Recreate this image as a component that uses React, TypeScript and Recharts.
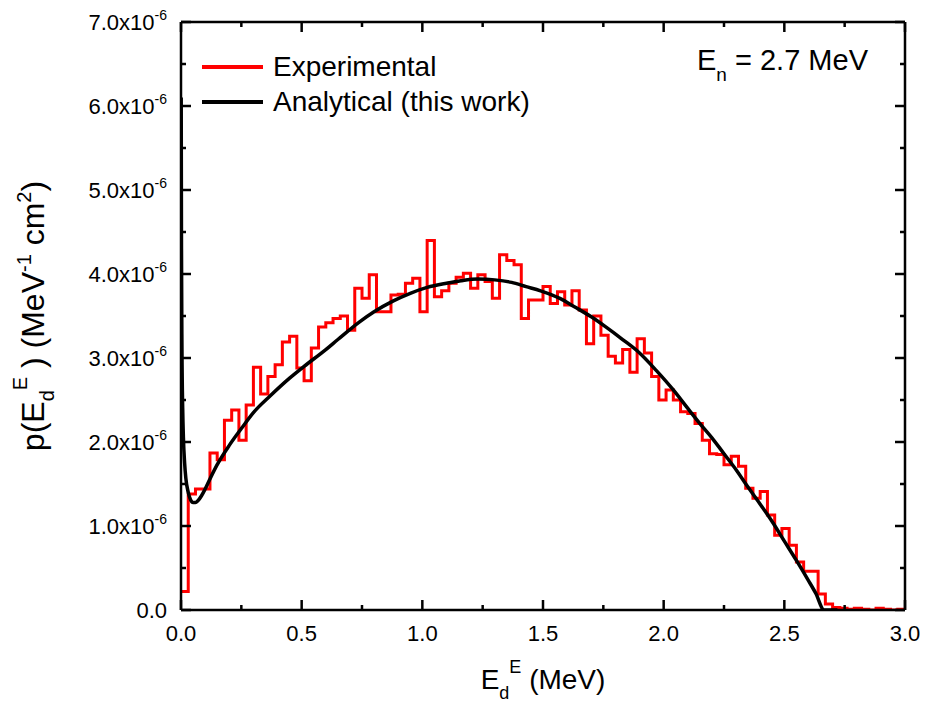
import React from 'react';
import { ComposedChart, Line, XAxis, YAxis, Legend, Label, Customized } from 'recharts';

// histogram bins are 0.03 MeV wide, values in units of 1e-6 MeV^-1 cm^2
const BIN_WIDTH = 0.03;
const experimental = [
  0.22, 1.38, 1.44, 1.44, 1.87, 1.79, 2.26, 2.38, 2.02, 2.44,
  2.89, 2.57, 2.78, 2.92, 3.19, 3.26, 2.88, 2.73, 3.12, 3.37,
  3.42, 3.47, 3.5, 3.33, 3.83, 3.71, 3.99, 3.55, 3.55, 3.75,
  3.76, 3.89, 3.95, 3.55, 4.4, 3.73, 3.8, 3.89, 3.96, 4.01,
  3.83, 3.99, 3.91, 3.71, 4.23, 4.16, 4.11, 3.47, 3.69, 3.69,
  3.85, 3.65, 3.79, 3.63, 3.8, 3.57, 3.17, 3.5, 3.27, 3.02,
  2.94, 3.1, 2.83, 3.23, 3.06, 2.78, 2.5, 2.62, 2.5, 2.36,
  2.34, 2.22, 2.02, 1.86, 1.85, 1.73, 1.83, 1.71, 1.45, 1.33,
  1.41, 1.13, 0.89, 0.97, 0.77, 0.57, 0.46, 0.46, 0.19, 0.07,
  0.03, 0.02, 0.01, 0.02, 0.01, 0.0, 0.02, 0.01, 0.0, 0.01,
];

const analyticalE = [
  0.0008, 0.002, 0.004, 0.007, 0.01, 0.015, 0.02, 0.03, 0.04, 0.05,
  0.06, 0.07, 0.085, 0.1, 0.12, 0.15, 0.2, 0.25, 0.3, 0.37,
  0.45, 0.51, 0.6, 0.65, 0.74, 0.8, 0.88, 0.95, 1.02, 1.1,
  1.16, 1.23, 1.3, 1.37, 1.43, 1.49, 1.57, 1.63, 1.7, 1.76,
  1.83, 1.9, 1.97, 2.04, 2.1, 2.15, 2.2, 2.25, 2.3, 2.35,
  2.4, 2.45, 2.5, 2.55, 2.6, 2.63, 2.665, 2.72,
];
const analyticalP = [
  6.1, 4.3, 3.1, 2.4, 2.05, 1.75, 1.57, 1.4, 1.31, 1.28,
  1.28, 1.3, 1.36, 1.44, 1.56, 1.73, 1.96, 2.16, 2.35, 2.55,
  2.76, 2.9, 3.1, 3.22, 3.43, 3.55, 3.68, 3.77, 3.84, 3.89,
  3.92, 3.94, 3.93, 3.9, 3.85, 3.8, 3.71, 3.61, 3.49, 3.37,
  3.22, 3.06, 2.85, 2.62, 2.4, 2.22, 2.05, 1.86, 1.67, 1.46,
  1.26, 1.05, 0.82, 0.59, 0.35, 0.2, 0.0, 0.0,
];

const seriesNames = ['Experimental', 'Analytical (this work)'];
const xTicks = [0, 0.25, 0.5, 0.75, 1, 1.25, 1.5, 1.75, 2, 2.25, 2.5, 2.75, 3];
const yTicks = [0, 0.5, 1, 1.5, 2, 2.5, 3, 3.5, 4, 4.5, 5, 5.5, 6, 6.5, 7];

const expData = [
  ...experimental.map((p, i) => ({ e: +(i * BIN_WIDTH).toFixed(2), p })),
  { e: 3.0, p: experimental[experimental.length - 1] },
];
const anaData = analyticalE.map((e, i) => ({ e, p: analyticalP[i] }));

const FONT = "'Liberation Sans', Arial, sans-serif";
const MAJOR = 10;
const MINOR = 5;
const TICK_W = 2.5;
const isMajorX = (v: number) => Math.abs(v * 2 - Math.round(v * 2)) < 1e-6;
const isMajorY = (v: number) => Math.abs(v - Math.round(v)) < 1e-6;

// all axes get tickSize 0 / tickMargin 0, so x,y below sit on the axis line;
// tick marks point into the plot like the original
const renderBottomTick = (props: any) => {
  const { x, y, payload } = props;
  const major = isMajorX(payload.value);
  return (
    <g>
      <path d={`M${x},${y}V${y - (major ? MAJOR : MINOR)}`} stroke="#000" strokeWidth={TICK_W} fill="none" />
      {major && (
        <text x={x} y={y + 31} textAnchor="middle" fontSize={22} fontFamily={FONT} fill="#000">
          {payload.value.toFixed(1)}
        </text>
      )}
    </g>
  );
};

const renderTopTick = (props: any) => {
  const { x, y, payload } = props;
  const major = isMajorX(payload.value);
  return <path d={`M${x},${y}V${y + (major ? MAJOR : MINOR)}`} stroke="#000" strokeWidth={TICK_W} fill="none" />;
};

const renderLeftTick = (props: any) => {
  const { x, y, payload } = props;
  const v = payload.value;
  const major = isMajorY(v);
  return (
    <g>
      <path d={`M${x},${y}H${x + (major ? MAJOR : MINOR)}`} stroke="#000" strokeWidth={TICK_W} fill="none" />
      {major && (
        <text x={x - 14} y={y + 8} textAnchor="end" fontSize={22} fontFamily={FONT} fill="#000">
          {v === 0 ? '0.0' : `${v.toFixed(1)}x10`}
          {v !== 0 && (
            <tspan dy={-10} fontSize={14}>-6</tspan>
          )}
        </text>
      )}
    </g>
  );
};

const renderRightTick = (props: any) => {
  const { x, y, payload } = props;
  const major = isMajorY(payload.value);
  return <path d={`M${x},${y}H${x - (major ? MAJOR : MINOR)}`} stroke="#000" strokeWidth={TICK_W} fill="none" />;
};

function XTitle({ viewBox }: any) {
  const cx = viewBox.x + viewBox.width / 2;
  const base = viewBox.y + 79;
  return (
    <text x={cx} y={base} textAnchor="middle" fontSize={28} fontFamily={FONT} fill="#000">
      E
      <tspan dy={10} fontSize={18}>d</tspan>
      <tspan dy={-26} fontSize={18}>E</tspan>
      <tspan dy={16}> (MeV)</tspan>
    </text>
  );
}

function YTitle({ viewBox }: any) {
  const cy = viewBox.y + viewBox.height / 2;
  const bx = 44;
  return (
    <text
      x={bx}
      y={cy}
      transform={`rotate(-90, ${bx}, ${cy})`}
      textAnchor="middle"
      fontSize={32}
      fontFamily={FONT}
      fill="#000"
    >
      p(E
      <tspan dy={10} fontSize={20}>d</tspan>
      <tspan dy={-27} fontSize={20}>E</tspan>
      <tspan dy={17}> ) (MeV</tspan>
      <tspan dy={-13} fontSize={20}>-1</tspan>
      <tspan dy={13}>  cm</tspan>
      <tspan dy={-13} fontSize={20}>2</tspan>
      <tspan dy={13}>)</tspan>
    </text>
  );
}

function LegendBox({ payload }: any) {
  const items = (payload || [])
    .filter((p: any) => seriesNames.includes(p.value))
    .sort((a: any, b: any) => seriesNames.indexOf(a.value) - seriesNames.indexOf(b.value));
  return (
    <svg width={380} height={90}>
      {items.map((item: any, i: number) => (
        <g key={item.value}>
          <line x1={2} x2={63} y1={27 + 35 * i} y2={27 + 35 * i} stroke={item.color} strokeWidth={4} />
          <text x={73} y={36 + 35 * i} fontSize={28} fontFamily={FONT} fill="#000">
            {item.value}
          </text>
        </g>
      ))}
    </svg>
  );
}

function EnergyNote() {
  return (
    <text x={697} y={70} fontSize={29} fontFamily={FONT} fill="#000">
      E
      <tspan dy={11} fontSize={19}>n</tspan>
      <tspan dy={-11}> = 2.7 MeV</tspan>
    </text>
  );
}

export default function App() {
  return (
    <div style={{ position: 'absolute', left: 0, top: 0, width: 935, height: 702, background: '#fff' }}>
      <ComposedChart width={935} height={702} margin={{ top: 21, right: 29, bottom: 32, left: 81 }}>
        <XAxis
          xAxisId="bottom"
          dataKey="e"
          type="number"
          domain={[0, 3]}
          ticks={xTicks}
          interval={0}
          allowDataOverflow
          height={60}
          axisLine={{ stroke: '#000', strokeWidth: TICK_W }}
          tickLine={false}
          tickSize={0}
          tickMargin={0}
          tick={renderBottomTick}
        >
          <Label content={<XTitle />} />
        </XAxis>
        <XAxis
          xAxisId="top"
          orientation="top"
          dataKey="e"
          type="number"
          domain={[0, 3]}
          ticks={xTicks}
          interval={0}
          allowDataOverflow
          height={1}
          axisLine={{ stroke: '#000', strokeWidth: TICK_W }}
          tickLine={false}
          tickSize={0}
          tickMargin={0}
          tick={renderTopTick}
        />
        <YAxis
          yAxisId="left"
          type="number"
          domain={[0, 7]}
          ticks={yTicks}
          interval={0}
          allowDataOverflow
          width={100}
          axisLine={{ stroke: '#000', strokeWidth: TICK_W }}
          tickLine={false}
          tickSize={0}
          tickMargin={0}
          tick={renderLeftTick}
        >
          <Label content={<YTitle />} />
        </YAxis>
        <YAxis
          yAxisId="right"
          orientation="right"
          type="number"
          domain={[0, 7]}
          ticks={yTicks}
          interval={0}
          allowDataOverflow
          width={1}
          axisLine={{ stroke: '#000', strokeWidth: TICK_W }}
          tickLine={false}
          tickSize={0}
          tickMargin={0}
          tick={renderRightTick}
        />
        <Legend
          layout="horizontal"
          verticalAlign="middle"
          align="center"
          wrapperStyle={{ left: 200, top: 40, width: 380, height: 90 }}
          content={<LegendBox />}
        />
        <Line
          name={seriesNames[0]}
          data={expData}
          xAxisId="bottom"
          yAxisId="left"
          dataKey="p"
          type="stepAfter"
          stroke="#ff0000"
          strokeWidth={3}
          dot={false}
          activeDot={false}
          isAnimationActive={false}
        />
        <Line
          name={seriesNames[1]}
          data={anaData}
          xAxisId="bottom"
          yAxisId="left"
          dataKey="p"
          type="monotone"
          stroke="#000"
          strokeWidth={3.5}
          dot={false}
          activeDot={false}
          isAnimationActive={false}
        />
        <Line
          data={anaData}
          xAxisId="top"
          yAxisId="right"
          dataKey="p"
          stroke="none"
          dot={false}
          activeDot={false}
          legendType="none"
          isAnimationActive={false}
        />
        <Customized component={<EnergyNote />} />
      </ComposedChart>
    </div>
  );
}
